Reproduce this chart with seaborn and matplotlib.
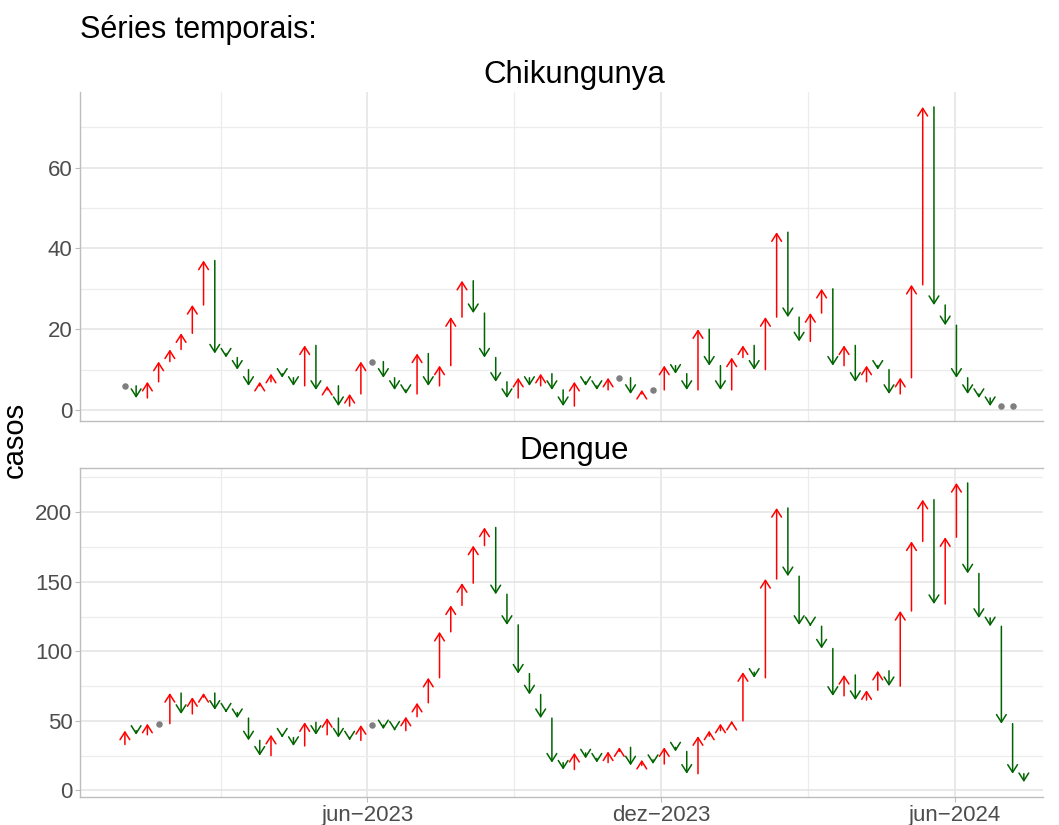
import numpy as np
import pandas as pd
import matplotlib
matplotlib.use("Agg")
import matplotlib.pyplot as plt
import matplotlib.dates as mdates
from matplotlib.ticker import FixedLocator, FuncFormatter
import seaborn as sns

# semanas epidemiologicas (inicio em 01/01/2023)
datas = pd.date_range("2023-01-01", periods=81, freq="7D")

chik = [6, 3, 7, 12, 15, 19, 26, 37, 14, 13,
        10, 6, 7, 9, 8, 6, 16, 5, 6, 1,
        4, 12, 12, 8, 5, 4, 14, 6, 11, 23,
        32, 24, 13, 7, 3, 8, 6, 9, 5, 1,
        7, 6, 5, 8, 8, 4, 5, 5, 11, 9,
        5, 20, 11, 5, 13, 16, 10, 23, 44, 23,
        17, 24, 30, 11, 16, 7, 11, 10, 4, 8,
        31, 75, 26, 21, 8, 4, 3, 1, 1, 1, np.nan]
chik_anterior = 6

dengue = [43, 40, 48, 48, 70, 55, 67, 70, 58, 56,
          52, 36, 25, 40, 38, 32, 49, 40, 52, 38,
          36, 47, 47, 44, 43, 53, 63, 81, 114, 133,
          149, 176, 189, 141, 119, 84, 69, 52, 20, 15,
          27, 23, 20, 28, 31, 18, 22, 19, 31, 28,
          12, 39, 43, 48, 50, 85, 81, 152, 203, 154,
          119, 118, 102, 68, 83, 65, 72, 86, 75, 129,
          179, 209, 134, 182, 221, 156, 124, 118, 48, 12, 6]
dengue_anterior = 33

marcas_x = ["2023-06-01", "2023-12-01", "2024-06-01"]
limites_x = ["2022-12-04", "2024-07-26"]
meses = ["jan", "fev", "mar", "abr", "mai", "jun",
         "jul", "ago", "set", "out", "nov", "dez"]

sns.set_theme(style="whitegrid")
plt.rcParams["font.family"] = ["Liberation Sans", "DejaVu Sans"]

fig = plt.figure(figsize=(10.59, 8.25), dpi=100)
ax1 = fig.add_axes([0.0755, 0.4897, 0.9095, 0.3988])
ax2 = fig.add_axes([0.0755, 0.0339, 0.9095, 0.3988])

x = mdates.date2num(datas.to_pydatetime())
xlim = mdates.date2num(pd.to_datetime(limites_x).to_pydatetime())

# minor breaks no meio das marcas principais (como no ggplot)
maj = mdates.date2num(pd.to_datetime(["2022-12-01"] + marcas_x).to_pydatetime())
minor_x = (maj[:-1] + maj[1:]) / 2


def fmt_data(v, pos):
    d = mdates.num2date(v)
    return "{}\u2212{}".format(meses[d.month - 1], d.year)


def painel(ax, vals, anterior, titulo, maj_y, min_y):
    vals = np.array(vals, dtype=float)
    prev = np.r_[anterior, vals[:-1]]
    iguais = []
    for xi, a, b in zip(x, prev, vals):
        if np.isnan(b):
            continue
        if a == b:
            iguais.append((xi, b))
            continue
        cor = "#FF0000" if b > a else "#006400"
        ax.annotate("", xy=(xi, b), xytext=(xi, a),
                    arrowprops=dict(arrowstyle="->,head_length=0.55,head_width=0.35",
                                    color=cor, lw=1.1, shrinkA=0, shrinkB=0,
                                    mutation_scale=10),
                    zorder=3)
    if iguais:
        df = pd.DataFrame(iguais, columns=["x", "y"])
        sns.scatterplot(data=df, x="x", y="y", ax=ax, color="#7F7F7F",
                        s=22, linewidth=0, zorder=4)

    todos = np.r_[prev, vals]
    lo, hi = np.nanmin(todos), np.nanmax(todos)
    ax.set_ylim(lo - 0.05 * (hi - lo), hi + 0.05 * (hi - lo))
    ax.set_xlim(xlim[0], xlim[1])

    ax.yaxis.set_major_locator(FixedLocator(maj_y))
    ax.yaxis.set_minor_locator(FixedLocator(min_y))
    ax.xaxis.set_major_locator(FixedLocator(maj[1:]))
    ax.xaxis.set_minor_locator(FixedLocator(minor_x))
    ax.xaxis.set_major_formatter(FuncFormatter(fmt_data))

    ax.grid(which="major", color="#e3e3e3", lw=1.1)
    ax.grid(which="minor", color="#ececec", lw=0.9)
    ax.set_facecolor("white")
    for s in ax.spines.values():
        s.set_visible(False)
    for lado in ["left", "bottom"]:
        ax.spines[lado].set_visible(True)
        ax.spines[lado].set_color("#bdbdbd")
        ax.spines[lado].set_linewidth(1.0)
    ax.tick_params(axis="y", which="major", left=True, length=3.5, width=0.8,
                   color="#bdbdbd", labelsize=16, labelcolor="#4D4D4D", pad=2)
    ax.tick_params(axis="x", which="major", bottom=True, length=3.5, width=0.8,
                   color="#bdbdbd", labelsize=16, labelcolor="#4D4D4D", pad=2)
    ax.tick_params(which="minor", length=0)
    ax.set_xlabel("")
    ax.set_ylabel("")
    ax.text(0.513, 1.053, titulo, transform=ax.transAxes, ha="center",
            va="center", fontsize=22.5, color="black")


painel(ax1, chik, chik_anterior, "Chikungunya", [0, 20, 40, 60], [10, 30, 50, 70])
painel(ax2, dengue, dengue_anterior, "Dengue",
       [0, 50, 100, 150, 200], [25, 75, 125, 175, 225])

ax1.tick_params(axis="x", labelbottom=False, bottom=False)
ax2.spines["top"].set_visible(True)
ax2.spines["top"].set_color("#bdbdbd")
ax2.spines["top"].set_linewidth(1.0)

fig.text(0.0755, 1 - 30 / 825, "Séries temporais:", ha="left", va="center",
         fontsize=22, color="black")
fig.text(15 / 1059, 1 - 440 / 825, "casos", rotation=90, ha="center",
         va="center", fontsize=21, color="black")

fig.savefig("out.png", dpi=100)
